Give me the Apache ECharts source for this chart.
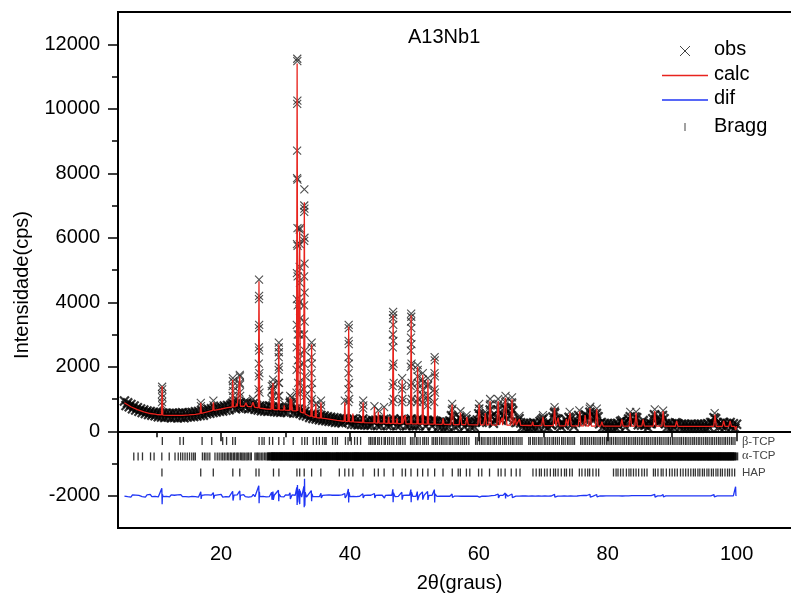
<!DOCTYPE html>
<html><head><meta charset="utf-8">
<script src="https://cdn.jsdelivr.net/npm/echarts@6/dist/echarts.min.js"></script>
<style>html,body{margin:0;padding:0;background:#fff}#c{width:791px;height:605px}</style>
</head><body><div id="c"></div>
<script>
const FONT = "'Liberation Sans', Arial, sans-serif";

const obsStart = 5.0, obsStep = 0.25;
const obsScan = [
940,800,880,760,830,700,780,660,730,620,690,580,660,550,630,520,610,500,590,480,
580,450,570,440,560,430,560,440,550,420,560,430,550,420,560,430,570,420,560,440,
570,450,580,460,600,470,610,490,640,500,660,540,680,560,700,580,720,600,740,620,
760,630,780,650,800,670,810,860,830,700,860,720,880,720,860,760,880,700,840,710,
850,680,800,660,780,640,770,630,750,620,780,630,750,610,730,600,740,590,720,600,
720,580,710,880,820,570,690,570,680,550,640,500,610,470,560,430,530,400,520,380,
480,360,490,340,470,330,450,310,430,300,420,280,400,270,380,260,390,330,370,290,
350,220,380,210,340,200,330,210,380,200,320,190,320,190,330,300,340,180,360,180,
310,360,300,180,340,180,300,380,300,170,330,180,360,300,330,170,340,190,380,170,
350,170,360,180,340,320,320,160,340,290,300,160,330,310,290,150,280,150,290,140,
280,140,320,480,430,150,290,170,420,360,270,140,370,290,260,130,270,140,290,350,
540,480,280,340,450,280,390,660,460,250,340,420,660,390,340,470,720,680,380,480,
720,640,350,270,290,390,260,130,240,120,240,110,240,130,260,120,240,130,300,350,
400,150,250,120,250,190,440,570,390,370,220,140,260,190,360,270,430,390,230,150,
270,320,490,420,300,370,510,350,450,590,530,330,430,550,450,230,270,130,240,120,
240,110,230,110,230,110,240,160,300,330,230,130,290,380,450,280,310,440,420,200,
250,190,330,190,230,110,250,230,390,510,370,250,290,350,490,390,230,120,240,110,
230,120,260,250,220,110,220,100,220,100,210,100,220,100,210,100,220,100,220,100,
220,100,230,120,270,260,420,390,270,130,240,160,270,140,240,190,270,130,230,100,
220
];

// observed points on the flanks/tops of the sharp reflections [2theta, counts]
const obsPeaks = [
[10.83,900],[10.84,1150],[10.85,1380],[10.86,1300],[10.87,1050],[10.88,800],
[16.85,880],[16.87,780],[18.8,950],[18.82,800],
[21.78,1100],[21.8,1400],[21.82,1650],[21.84,1550],[21.86,1250],[21.88,950],[22.4,1000],
[22.86,1200],[22.88,1500],[22.9,1750],[22.92,1700],[22.94,1450],[22.96,1100],[23.85,950],[24.95,1000],
[25.82,1300],[25.84,1700],[25.85,2100],[25.86,2600],[25.87,3200],[25.88,4100],[25.89,4700],[25.9,4200],[25.91,3300],[25.92,2500],[25.94,1800],[25.96,1200],
[27.83,1000],[27.85,1250],[27.87,1400],[28.03,1100],[28.05,1450],[28.07,1600],[28.09,1300],
[28.9,1100],[28.92,1500],[28.93,1900],[28.94,2300],[28.95,2600],[28.96,2750],[28.97,2450],[28.98,2000],[29.0,1500],[29.02,1100],
[29.8,850],[30.7,950],[30.72,1100],[30.95,1050],[30.97,900],
[31.7,1200],[31.72,1900],[31.74,2600],[31.75,3300],[31.76,4100],[31.77,4900],[31.78,5800],[31.79,7850],[31.8,8700],[31.81,10150],[31.82,11550],[31.83,11480],[31.84,10250],[31.85,7800],[31.86,6300],[31.87,5750],[31.88,4800],[31.89,3900],[31.9,3000],[31.92,2200],[31.95,1500],
[32.1,1200],[32.13,2000],[32.15,3000],[32.17,4000],[32.19,5100],[32.2,6250],[32.21,6300],[32.22,5800],[32.24,4600],[32.26,3500],[32.28,2400],[32.3,1500],
[32.82,1300],[32.84,2100],[32.86,3000],[32.87,3900],[32.88,4800],[32.89,5900],[32.9,6800],[32.91,7000],[32.92,7500],[32.93,6900],[32.94,6000],[32.95,5200],[32.96,4300],[32.97,3400],[32.99,2500],[33.01,1700],[33.04,1100],
[33.98,900],[34.0,1300],[34.02,1800],[34.03,2300],[34.05,2750],[34.06,2600],[34.08,2100],[34.1,1500],[34.12,1000],
[34.7,850],[35.48,700],[35.5,950],[35.52,800],[39.2,950],
[39.74,900],[39.76,1300],[39.77,1800],[39.78,2300],[39.79,2800],[39.8,3300],[39.81,3200],[39.82,2700],[39.84,2100],[39.86,1500],[39.88,1000],
[42.03,700],[42.05,950],[42.07,800],[43.8,780],[44.4,650],[45.3,750],
[46.6,900],[46.62,1400],[46.64,2000],[46.65,2600],[46.66,3000],[46.68,3500],[46.7,3700],[46.71,3600],[46.72,3300],[46.74,2800],[46.76,2100],[46.78,1500],[46.8,1000],
[48.06,900],[48.08,1300],[48.1,1650],[48.12,1400],[48.14,1000],
[49.4,900],[49.42,1400],[49.44,2000],[49.45,2500],[49.46,2900],[49.48,3400],[49.5,3650],[49.51,3550],[49.52,3200],[49.54,2700],[49.56,2100],[49.58,1500],[49.6,1000],
[50.44,900],[50.46,1300],[50.48,1700],[50.5,2050],[50.52,1900],[50.54,1500],[50.56,1000],
[51.24,900],[51.26,1300],[51.28,1600],[51.3,1800],[51.32,1500],[51.34,1100],
[52.04,800],[52.06,1100],[52.08,1400],[52.1,1650],[52.12,1450],[52.14,1000],
[53.08,900],[53.1,1300],[53.12,1800],[53.14,2300],[53.16,2200],[53.18,1700],[53.2,1200],
[55.8,650],[55.85,850],[55.9,700],[57.15,620],[58.1,500],[60.0,700],[60.05,850],[60.1,700],[61.0,600],
[61.7,800],[61.75,1000],[61.8,850],[62.95,800],[63.0,1000],[63.05,850],[64.1,900],[64.15,1100],[64.2,950],
[65.1,900],[65.15,1050],[65.2,880],[66.3,480],[69.95,500],[71.7,600],[71.75,750],[71.8,640],[74.1,600],
[75.6,650],[77.2,700],[77.3,760],[78.3,700],[83.5,600],[84.4,600],[87.3,680],[88.6,640],[96.6,560]
];

// calculated profile [2theta, counts]
const calc = [
[5.0,880],[5.5,820],[6.0,760],[7.0,670],[8.0,600],[9.0,550],[10.0,520],[10.75,505],[10.85,1400],[10.95,502],
[12.0,490],[13.0,490],[14.0,495],[15.0,505],[16.0,525],[16.75,548],[16.85,880],[16.95,552],[18.0,610],[18.7,645],
[18.8,900],[18.9,650],[20.0,690],[21.0,730],[21.7,752],[21.8,1600],[21.9,756],[22.3,765],[22.4,860],[22.5,768],
[22.8,772],[22.9,1700],[23.0,775],[23.6,775],[23.85,880],[24.1,772],[24.7,760],[24.95,900],[25.2,745],[25.78,725],
[25.88,4650],[25.98,720],[26.5,705],[27.0,690],[27.75,680],[27.85,1350],[27.95,678],[28.05,1500],[28.15,675],[28.85,665],
[28.95,2700],[29.05,660],[29.7,655],[29.8,800],[29.9,652],[30.62,645],[30.72,1050],[30.83,642],[30.95,1000],[31.05,640],
[31.7,630],[31.8,11400],[31.9,626],[32.1,615],[32.2,6200],[32.3,600],[32.8,565],[32.92,7100],[33.02,540],[33.6,480],
[33.95,460],[34.05,2700],[34.15,450],[34.6,430],[34.7,850],[34.8,425],[35.4,410],[35.5,900],[35.6,405],[36.0,400],
[37.0,370],[38.0,340],[39.1,310],[39.2,900],[39.3,308],[39.7,300],[39.8,3250],[39.9,298],[40.35,292],[40.45,550],
[40.55,290],[41.95,272],[42.05,900],[42.15,270],[43.7,258],[43.8,750],[43.9,257],[44.3,255],[44.4,600],[44.5,254],
[45.2,250],[45.3,720],[45.4,249],[45.9,246],[46.0,450],[46.1,245],[46.6,244],[46.7,3600],[46.8,243],[47.2,240],
[47.3,400],[47.4,239],[48.0,236],[48.1,1600],[48.2,235],[48.5,234],[48.6,500],[48.7,233],[49.4,231],[49.5,3600],
[49.6,230],[50.4,228],[50.5,2000],[50.6,227],[51.2,225],[51.3,1750],[51.4,224],[52.0,222],[52.1,1600],[52.2,221],
[53.05,219],[53.15,2250],[53.25,218],[54.3,215],[54.45,400],[54.6,214],[55.65,210],[55.85,830],[56.05,209],[56.95,207],
[57.15,580],[57.35,206],[57.95,204],[58.15,450],[58.35,203],[59.85,200],[60.05,830],[60.25,199],[60.8,198],[61.0,560],
[61.2,197],[61.55,196],[61.75,940],[61.95,195],[62.8,193],[63.0,940],[63.2,192],[63.5,191],[63.6,420],[63.7,190],
[63.95,190],[64.15,1040],[64.35,189],[64.95,187],[65.15,990],[65.35,186],[65.6,185],[65.7,400],[65.8,185],[66.1,184],
[66.3,380],[66.5,183],[68.2,178],[68.35,300],[68.5,177],[69.75,175],[69.95,450],[70.15,174],[71.55,172],[71.75,730],
[71.95,171],[72.1,171],[72.3,420],[72.5,170],[73.4,168],[73.6,380],[73.8,167],[73.95,167],[74.15,570],[74.35,166],
[75.45,165],[75.65,620],[75.85,165],[76.3,164],[76.5,500],[76.7,164],[77.05,163],[77.25,720],[77.45,163],[78.1,162],
[78.3,680],[78.5,162],[78.9,161],[79.1,300],[79.3,161],[81.0,160],[82.0,160],[82.2,370],[82.4,160],[83.3,159],
[83.5,570],[83.7,159],[84.2,158],[84.4,570],[84.6,158],[85.3,158],[85.5,370],[85.7,157],[87.1,157],[87.3,630],
[87.5,156],[88.4,156],[88.6,630],[88.8,156],[90.5,155],[90.7,320],[90.9,155],[93.0,154],[95.0,153],[96.45,153],
[96.65,520],[96.85,152],[97.8,152],[98.0,320],[98.2,152],[98.8,151],[99.0,320],[99.2,151],[99.7,150],[99.85,40],[100.0,160]
];

// difference curve (obs - calc, shifted to -2000)
const dif = [
[5.0,-2010],[5.25,-1975],[5.5,-2030],[5.75,-1990],[6.0,-2040],[6.25,-1970],[6.5,-2015],[6.75,-1980],[7.0,-2035],[7.25,-1990],
[7.5,-1965],[7.75,-2025],[8.0,-1985],[8.25,-2040],[8.5,-1975],[8.75,-2010],[9.0,-1960],[9.25,-2030],[9.5,-1985],[9.75,-2020],
[10.0,-1970],[10.25,-2035],[10.5,-1995],[10.8,-1770],[10.85,-2260],[10.9,-1960],[11.0,-2030],[11.25,-1975],[11.5,-2020],[11.75,-1980],
[12.0,-2035],[12.25,-1970],[12.5,-2015],[12.75,-1985],[13.0,-2040],[13.25,-1975],[13.5,-2010],[13.75,-1965],[14.0,-2030],[14.25,-1990],
[14.5,-2025],[14.75,-1970],[15.0,-2035],[15.25,-1980],[15.5,-2020],[15.75,-1960],[16.0,-2030],[16.25,-1985],[16.5,-2040],[16.85,-1880],
[16.9,-2100],[17.0,-1990],[17.25,-2030],[17.5,-1970],[17.75,-2025],[18.0,-1975],[18.25,-2035],[18.5,-1980],[18.8,-1900],[18.85,-2090],
[19.0,-1990],[19.25,-2030],[19.5,-1970],[19.75,-2020],[20.0,-1960],[20.25,-2040],[20.5,-1980],[20.75,-2030],[21.0,-1970],[21.25,-2035],
[21.5,-1985],[21.8,-1860],[21.85,-2150],[22.0,-1980],[22.25,-2040],[22.5,-1970],[22.9,-1850],[22.95,-2140],[23.0,-1985],[23.25,-2035],
[23.5,-1965],[23.75,-2030],[24.0,-1975],[24.25,-2040],[24.5,-1980],[24.75,-2025],[25.0,-1960],[25.25,-2030],[25.5,-1985],[25.85,-1690],
[25.9,-2230],[25.95,-1880],[26.0,-2030],[26.25,-1975],[26.5,-2020],[26.75,-1965],[27.0,-2035],[27.25,-1980],[27.5,-2025],[27.85,-1890],
[27.9,-2120],[28.05,-1870],[28.1,-2130],[28.25,-1985],[28.5,-2030],[28.9,-1830],[28.95,-2170],[29.0,-1950],[29.25,-2030],[29.5,-1975],
[29.75,-2035],[30.0,-1970],[30.25,-2030],[30.5,-1980],[30.7,-1910],[30.75,-2100],[31.0,-1975],[31.25,-2035],[31.5,-1985],[31.75,-1740],
[31.8,-2290],[31.85,-1670],[31.9,-2210],[32.0,-1940],[32.15,-1790],[32.2,-2260],[32.25,-1840],[32.5,-2040],[32.85,-1710],[32.9,-2360],
[32.95,-1470],[33.0,-2310],[33.05,-1890],[33.25,-2040],[33.5,-1975],[33.75,-2030],[34.0,-1840],[34.05,-2170],[34.1,-1940],[34.25,-2030],
[34.5,-1975],[34.75,-2025],[35.0,-1980],[35.25,-2030],[35.5,-1920],[35.55,-2070],[35.75,-1990],[36.0,-2030],[36.25,-1980],[36.5,-2020],
[36.75,-1975],[37.0,-2030],[37.25,-1985],[37.5,-2020],[37.75,-1980],[38.0,-2030],[38.25,-1985],[38.5,-2015],[38.75,-1975],[39.0,-2025],
[39.2,-1930],[39.25,-2070],[39.5,-1990],[39.75,-1790],[39.8,-2210],[39.85,-1890],[40.0,-2025],[40.25,-1980],[40.5,-2020],[40.75,-1985],
[41.0,-2025],[41.25,-1975],[41.5,-2015],[41.75,-1985],[42.0,-1940],[42.05,-2070],[42.25,-1990],[42.5,-2025],[42.75,-1980],[43.0,-2020],
[43.25,-1985],[43.5,-2025],[43.8,-1930],[43.85,-2070],[44.0,-1990],[44.25,-2020],[44.5,-1980],[44.75,-2025],[45.0,-1985],[45.3,-1930],
[45.35,-2070],[45.5,-1990],[45.75,-2020],[46.0,-1980],[46.25,-2025],[46.5,-1985],[46.65,-1800],[46.7,-2200],[46.75,-1910],[47.0,-2030],
[47.25,-1980],[47.5,-2020],[47.75,-1985],[48.05,-1890],[48.1,-2120],[48.25,-1990],[48.5,-2020],[48.75,-1980],[49.0,-2025],[49.25,-1985],
[49.45,-1810],[49.5,-2200],[49.55,-1890],[49.75,-2020],[50.0,-1985],[50.25,-2020],[50.45,-1870],[50.5,-2140],[50.75,-1985],[51.0,-2020],
[51.25,-1880],[51.3,-2120],[51.5,-1990],[51.75,-2015],[52.05,-1870],[52.1,-2130],[52.25,-1990],[52.5,-2020],[52.75,-1985],[53.1,-1810],
[53.15,-2210],[53.2,-1940],[53.5,-2020],[53.75,-1990],[54.0,-2010],[54.25,-1990],[54.5,-2015],[54.75,-1990],[55.0,-2010],[55.25,-1990],
[55.5,-2015],[55.85,-1945],[55.9,-2055],[56.0,-1995],[56.25,-2010],[56.5,-1990],[56.75,-2010],[57.0,-1990],[57.25,-2015],[57.5,-1990],
[57.75,-2010],[58.0,-1990],[58.25,-2015],[58.5,-1990],[58.75,-2010],[59.0,-1990],[59.25,-2015],[59.5,-1990],[59.75,-2010],[60.05,-1955],
[60.1,-2045],[60.25,-1995],[60.5,-2010],[60.75,-1990],[61.0,-2015],[61.25,-1990],[61.5,-2010],[61.75,-1950],[61.8,-2050],[62.0,-1995],
[62.25,-2010],[62.5,-1990],[62.75,-2015],[63.0,-1945],[63.05,-2065],[63.25,-1990],[63.5,-2015],[63.75,-1990],[64.1,-1915],[64.15,-2085],
[64.2,-1945],[64.5,-2015],[64.75,-1990],[65.15,-1945],[65.2,-2055],[65.5,-1995],[65.75,-2010],[66.0,-1992],[66.25,-2010],[66.5,-1992],
[66.75,-2008],[67.0,-1992],[67.25,-2008],[67.5,-1992],[67.75,-2010],[68.0,-1992],[68.25,-2008],[68.5,-1992],[68.75,-2010],[69.0,-1992],
[69.25,-2008],[69.5,-1992],[69.75,-2010],[70.0,-1992],[70.25,-2008],[70.5,-1995],[70.75,-2010],[71.0,-1992],[71.25,-2008],[71.5,-1995],
[71.75,-1958],[71.8,-2042],[72.0,-1995],[72.25,-2010],[72.5,-1992],[72.75,-2010],[73.0,-1992],[73.25,-2008],[73.5,-1992],[73.75,-2010],
[74.0,-1992],[74.25,-2008],[74.5,-1992],[74.75,-2010],[75.0,-1992],[75.25,-2008],[75.5,-1968],[75.55,-2032],[75.75,-1995],[76.0,-2008],
[76.25,-1992],[76.5,-2010],[76.75,-1992],[77.0,-2008],[77.25,-1958],[77.3,-2045],[77.5,-1995],[77.75,-2010],[78.0,-1992],[78.3,-1962],
[78.35,-2038],[78.5,-1995],[78.75,-2008],[79.0,-1992],[79.25,-2008],[79.5,-1994],[79.75,-2006],[80.0,-1994],[80.25,-2006],[80.5,-1994],
[80.75,-2006],[81.0,-1994],[81.25,-2006],[81.5,-1994],[81.75,-2006],[82.0,-1994],[82.25,-2008],[82.5,-1994],[82.75,-2006],[83.0,-1994],
[83.25,-2006],[83.5,-1968],[83.55,-2032],[83.75,-1995],[84.0,-2006],[84.25,-1994],[84.5,-1985],[84.55,-2020],[84.75,-1995],[85.0,-2006],
[85.25,-1994],[85.5,-2006],[85.75,-1994],[86.0,-2006],[86.25,-1994],[86.5,-2006],[86.75,-1994],[87.0,-2006],[87.3,-1958],[87.35,-2042],
[87.5,-1995],[87.75,-2006],[88.0,-1994],[88.25,-2006],[88.6,-1962],[88.65,-2038],[88.75,-1995],[89.0,-2006],[89.25,-1994],[89.5,-2006],
[89.75,-1994],[90.0,-2006],[90.25,-1994],[90.5,-2006],[90.75,-1994],[91.0,-2006],[91.25,-1994],[91.5,-2006],[91.75,-1994],[92.0,-2006],
[92.25,-1994],[92.5,-2006],[92.75,-1994],[93.0,-2006],[93.25,-1994],[93.5,-2006],[93.75,-1994],[94.0,-2006],[94.25,-1994],[94.5,-2006],
[94.75,-1994],[95.0,-2006],[95.25,-1994],[95.5,-2006],[95.75,-1994],[96.0,-2006],[96.25,-1994],[96.5,-1968],[96.55,-2032],[96.75,-1995],
[97.0,-2006],[97.25,-1994],[97.5,-2006],[97.75,-1994],[98.0,-2006],[98.25,-1994],[98.5,-2006],[98.75,-1994],[99.0,-2006],[99.25,-1994],
[99.5,-2006],[99.8,-2000],[99.85,-1720],[99.9,-1990],[100.0,-2000]
];

// Bragg reflection positions (2theta) per phase
const betaTicks = [10.88,13.62,14.15,17.05,18.55,20.25,20.85,21.8,22.2,25.9,26.35,26.68,27.5,28.0,28.95,29.75,31.2,32.55,32.98,33.38,
34.3,34.8,35.25,35.75,36.1,36.3,37.3,37.72,38.05,39.3,39.7,40.2,40.72,41.15,41.65,42.95,43.2,43.45,43.75,43.95,
44.3,44.55,44.9,45.3,45.5,45.85,46.15,46.5,46.8,47.25,47.6,47.85,48.2,48.55,49.4,49.65,49.95,50.3,50.55,50.9,
51.3,51.55,51.85,52.15,52.75,53.0,53.3,53.55,53.9,54.2,54.45,54.75,55.05,55.4,55.65,55.95,56.3,56.6,56.85,57.2,
57.5,57.8,58.1,58.45,59.5,59.75,60.1,60.4,60.65,60.95,61.3,61.55,61.85,62.2,62.45,62.75,63.1,63.35,63.7,64.0,
64.25,64.6,64.9,65.2,65.45,65.8,66.1,66.4,66.7,67.75,68.0,68.35,68.6,68.9,69.25,69.5,69.8,70.15,70.4,70.7,
71.0,71.35,71.6,71.9,72.2,72.5,72.85,73.1,73.4,73.75,74.0,74.3,74.6,74.85,75.8,76.05,76.35,76.6,76.9,77.2,
77.5,77.8,78.05,78.35,78.65,78.9,79.2,79.5,79.8,80.05,80.35,80.6,80.9,81.2,81.45,81.75,82.05,82.35,82.6,82.9,
83.2,83.45,83.75,84.05,84.3,84.6,84.9,85.2,85.45,85.75,86.05,86.3,86.6,86.9,87.2,87.45,87.75,88.05,88.3,88.6,
88.9,89.2,89.45,89.75,90.05,90.3,90.6,90.9,91.2,91.45,91.75,92.05,92.3,92.6,92.9,93.2,93.45,93.75,94.05,94.3,
94.6,94.9,95.2,95.45,95.75,96.05,96.3,96.6,96.9,97.2,97.45,97.75,98.05,98.3,98.6,98.9,99.2,99.45,99.75];
const alphaTicks = [6.45,7.12,7.8,9.05,9.6,10.8,11.95,12.85,13.35,13.72,14.05,14.4,14.75,15.1,15.45,15.75,16.0,17.1,17.4,17.65,
17.95,18.25,19.05,19.4,19.7,20.0,20.25,20.5,20.75,21.0,21.2,21.45,21.65,21.9,22.1,22.35,22.55,22.75,23.0,23.2,
23.4,23.6,23.85,24.05,24.25,24.5,24.7,25.25,25.45,25.65,25.85,26.05,26.3,26.5,26.75,26.95,27.15,27.35,27.6,27.9,
28.2,28.5,28.85,29.15,29.45,29.75,30.1,30.4,30.7,31.0,31.35,31.65,31.95,32.25,32.55,32.9,33.2,33.45,33.75,34.05,
34.4,34.7,35.0,35.3,35.6,35.95,36.25,36.55,36.85,37.15,37.6,37.9,38.2,38.5,38.85,39.15,39.45,39.75,40.05,40.4,
40.7,40.95,41.2,41.5,41.8,42.1,42.45,42.75,43.05,43.35,43.65,44.0,44.3,44.6,44.9,45.2,45.55,45.85,46.15,46.45,
46.75,47.1,47.4,47.7,48.0,48.3,48.65,48.95,49.25,49.55,49.85,50.2,50.5,50.8,51.1,51.4,51.75,52.05,52.35,52.65,
52.95,53.3,53.6,53.9,54.2,54.5,54.85,55.15,55.45,55.75,56.05,56.4,56.7,57.0,57.3,57.6,57.95,58.25,58.55,58.85,
59.15,59.5,59.8,60.1,60.4,60.7,61.05,61.35,61.65,61.95,62.25,62.6,62.9,63.2,63.5,63.8,64.15,64.45,64.75,65.05,
65.35,65.7,66.0,66.3,66.6,66.9,67.25,67.55,67.85,68.15,68.45,68.8,69.1,69.4,69.7,70.0,70.35,70.65,70.95,71.25,
71.55,71.9,72.2,72.5,72.8,73.1,73.45,73.75,74.05,74.35,74.65,75.0,75.3,75.6,75.9,76.2,76.55,76.85,77.15,77.45,
77.75,78.1,78.4,78.7,79.0,79.3,79.65,79.95,80.25,80.55,80.85,81.2,81.5,81.8,82.1,82.4,82.75,83.05,83.35,83.65,
83.95,84.3,84.6,84.9,85.2,85.5,85.85,86.15,86.45,86.75,87.05,87.4,87.7,88.0,88.3,88.6,88.95,89.25,89.55,89.85,
90.15,90.5,90.8,91.1,91.4,91.7,92.05,92.35,92.65,92.95,93.25,93.6,93.9,94.2,94.5,94.8,95.15,95.45,95.75,96.05,
96.35,96.7,97.0,97.3,97.6,97.9,98.25,98.55,98.85,99.15,99.45,99.8];
const hapTicks = [10.82,16.84,18.79,21.82,22.9,25.42,25.88,28.13,28.97,31.77,32.2,32.9,34.05,35.48,38.35,39.2,39.82,40.45,42.03,43.8,
44.4,45.3,46.71,48.1,48.62,49.47,50.49,51.28,52.1,53.14,54.44,55.88,56.8,57.13,58.07,58.6,59.96,60.46,61.66,63.01,
63.45,64.08,65.03,65.8,66.39,68.4,68.9,69.4,69.7,70.2,70.6,71.1,71.6,71.9,72.3,72.8,73.3,73.6,74.1,74.5,
75.6,76.0,76.5,76.9,77.2,77.7,78.2,78.6,80.9,81.3,81.6,82.0,82.4,82.9,83.3,83.6,84.0,84.4,84.8,85.3,
85.7,86.1,87.1,87.4,87.8,88.3,88.6,89.1,89.6,90.0,90.4,90.8,91.3,91.7,92.1,92.5,92.9,93.3,93.6,94.0,
94.3,94.7,95.0,95.4,95.7,96.1,96.4,96.8,97.1,97.5,97.8,98.2,98.6,98.9,99.3,99.7];

const braggRowBeta = -300, braggRowAlpha = -780, braggRowHap = -1280;
const yMajorTicks = [-2000,0,2000,4000,6000,8000,10000,12000];
const yMinorTicks = [-1000,1000,3000,5000,7000,9000,11000];
const xMajorTicks = [20,40,60,80,100];
const xMinorTicks = [10,30,50,70,90];

const obsScanData = obsScan.map((y,i)=>[obsStart + i*obsStep, y]);
const CROSS = 'path://M0,0L10,10M0,10L10,0';

const chart = echarts.init(document.getElementById('c'), null, {renderer:'canvas'});
const tickSeries = (ticks, row, sizeFn) => ({
  type:'scatter', data: ticks.map(x=>[x,row]), symbol:'rect', symbolSize:sizeFn,
  itemStyle:{color:'#000'}, silent:true, z:3
});
const axisFont = {fontSize:20, color:'#000', fontFamily:FONT};
chart.setOption({
  animation:false,
  backgroundColor:'#fff',
  title:{text:'A13Nb1', left:408, top:27, padding:0,
    textStyle:{fontSize:20, fontWeight:'normal', color:'#000', fontFamily:FONT}},
  grid:{left:118, right:-10, top:12, bottom:77, show:true, borderColor:'#000', borderWidth:2,
    containLabel:false, outerBoundsMode:'none'},
  xAxis:[
    {type:'value', min:4, max:110, position:'bottom',
     axisLine:{show:true, lineStyle:{color:'#000', width:2}},
     axisTick:{show:true, customValues:xMajorTicks, length:10, lineStyle:{color:'#000', width:1.5}},
     axisLabel:{customValues:xMajorTicks, margin:16, formatter:v=>String(v), ...axisFont},
     splitLine:{show:false},
     name:'2θ(graus)', nameLocation:'middle', nameGap:45,
     nameTextStyle:{fontSize:20, color:'#000', fontFamily:FONT}},
    {type:'value', min:4, max:110, position:'bottom',
     axisLine:{show:false},
     axisTick:{show:true, customValues:xMinorTicks, length:6, lineStyle:{color:'#000', width:1.5}},
     axisLabel:{show:false}, splitLine:{show:false}}
  ],
  yAxis:[
    {type:'value', min:-3000, max:13000, position:'left',
     axisLine:{show:true, lineStyle:{color:'#000', width:2}},
     axisTick:{show:true, customValues:yMajorTicks, length:10, lineStyle:{color:'#000', width:1.5}},
     axisLabel:{customValues:yMajorTicks, margin:18, formatter:v=>String(v), ...axisFont},
     splitLine:{show:false}},
    {type:'value', min:-3000, max:13000, position:'left',
     axisLine:{show:false},
     axisTick:{show:true, customValues:yMinorTicks, length:6, lineStyle:{color:'#000', width:1.5}},
     axisLabel:{show:false}, splitLine:{show:false}}
  ],
  series:[
    {name:'obs', type:'scatter', data:obsScanData, symbol:CROSS, symbolSize:9,
     itemStyle:{color:'rgba(0,0,0,0)', borderColor:'#000', borderWidth:2.2}, silent:true, z:2},
    {name:'obs', type:'scatter', data:obsPeaks, symbol:CROSS, symbolSize:8,
     itemStyle:{color:'rgba(0,0,0,0)', borderColor:'#222', borderWidth:1.1}, silent:true, z:2},
    {name:'calc', type:'line', data:calc, showSymbol:false, symbol:'none',
     lineStyle:{color:'#e8231d', width:1.3}, silent:true, z:4},
    {name:'dif', type:'line', data:dif, showSymbol:false, symbol:'none',
     lineStyle:{color:'#1f35f5', width:1.3}, silent:true, z:4},
    tickSeries(betaTicks, braggRowBeta, [1.3,8]),
    tickSeries(alphaTicks, braggRowAlpha, v => v[0] < 27.5 ? [1.3,8] : [6,8]),
    tickSeries(hapTicks, braggRowHap, [1.3,8])
  ],
  graphic:[
    {type:'text', x:22, y:285, rotation:Math.PI/2,
     style:{text:'Intensidade(cps)', fontSize:20, fontFamily:FONT, fill:'#000', align:'center', verticalAlign:'middle'}},
    {type:'group', x:685, y:51, children:[
      {type:'line', shape:{x1:-5,y1:-5,x2:5,y2:5}, style:{stroke:'#444', lineWidth:1}},
      {type:'line', shape:{x1:-5,y1:5,x2:5,y2:-5}, style:{stroke:'#444', lineWidth:1}}
    ]},
    {type:'text', x:714, y:49, style:{text:'obs', fontSize:20, fontFamily:FONT, fill:'#000', verticalAlign:'middle'}},
    {type:'line', shape:{x1:662,y1:75.5,x2:708,y2:75.5}, style:{stroke:'#e8231d', lineWidth:1.3}},
    {type:'text', x:714, y:74, style:{text:'calc', fontSize:20, fontFamily:FONT, fill:'#000', verticalAlign:'middle'}},
    {type:'line', shape:{x1:662,y1:100,x2:708,y2:100}, style:{stroke:'#1f35f5', lineWidth:1.3}},
    {type:'text', x:714, y:98.5, style:{text:'dif', fontSize:20, fontFamily:FONT, fill:'#000', verticalAlign:'middle'}},
    {type:'rect', shape:{x:684.5, y:123, width:1, height:8}, style:{fill:'#444'}},
    {type:'text', x:714, y:126, style:{text:'Bragg', fontSize:20, fontFamily:FONT, fill:'#000', verticalAlign:'middle'}},
    {type:'text', x:742, y:441.5, style:{text:'{g|β}-TCP', fontSize:11.5, fontFamily:FONT, fill:'#444', verticalAlign:'middle',
      rich:{g:{fontFamily:"'Liberation Serif', serif", fontSize:12.5, fill:'#444'}}}},
    {type:'text', x:742, y:456, style:{text:'{g|α}-TCP', fontSize:11.5, fontFamily:FONT, fill:'#444', verticalAlign:'middle',
      rich:{g:{fontFamily:"'Liberation Serif', serif", fontSize:12.5, fill:'#444'}}}},
    {type:'text', x:742, y:472.5, style:{text:'HAP', fontSize:11.5, fontFamily:FONT, fill:'#444', verticalAlign:'middle'}}
  ]
});
</script></body></html>
